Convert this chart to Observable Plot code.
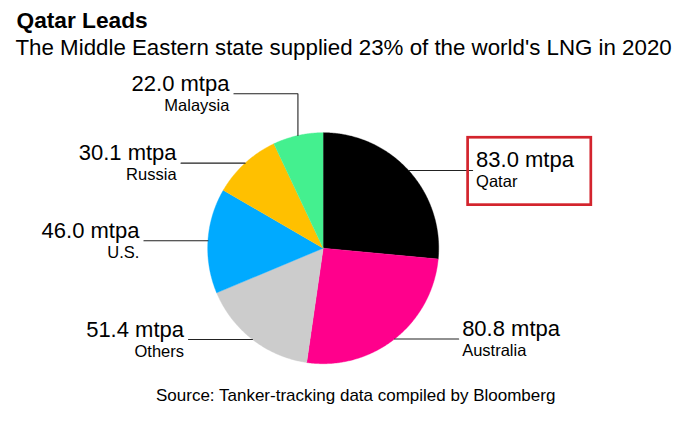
<!DOCTYPE html>
<html><head><meta charset="utf-8">
<script src="https://cdn.jsdelivr.net/npm/d3@7"></script>
<script src="https://cdn.jsdelivr.net/npm/@observablehq/plot@0.6"></script>
<style>
body{margin:0;background:#fff;}
#wrap{position:relative;width:679px;height:422px;font-family:"Liberation Sans",Arial,sans-serif;color:#000;overflow:hidden;}
#title{position:absolute;left:16.5px;top:8.8px;font-size:22.7px;line-height:22.7px;font-weight:bold;white-space:nowrap;}
#subtitle{position:absolute;left:15.5px;top:37.1px;font-size:22.3px;line-height:22.3px;white-space:nowrap;}
#chart{position:absolute;left:0;top:64px;}
#source{position:absolute;left:156px;top:386.6px;font-size:17px;line-height:17px;white-space:nowrap;}
</style></head><body>
<div id="wrap">
<div id="title">Qatar Leads</div>
<div id="subtitle">The Middle Eastern state supplied 23% of the world's LNG in 2020</div>
<div id="chart"></div>
<div id="source">Source: Tanker-tracking data compiled by Bloomberg</div>
</div>
<script>
// Data
const countries = ["Qatar", "Australia", "Others", "U.S.", "Russia", "Malaysia"];
const volumes = [83.0, 80.8, 51.4, 46.0, 30.1, 22.0];
const unit = "mtpa";
const sliceColors = ["#000000", "#ff008c", "#cccccc", "#00aaff", "#ffc000", "#44f08f"];
const highlighted = "Qatar";

// Layout
const W = 679, H = 310;
const cx = 322.7, cy = 183.7, R = 115.5;
const lead = 64, gap = 3.5, elbowRise = 39;

const arcs = d3.pie().sort(null).value(d => d)(volumes);

const slices = [];
arcs.forEach((a, i) => {
  slices.push({name: countries[i], x: cx, y: cy});
  const n = Math.max(2, Math.ceil((a.endAngle - a.startAngle) / (Math.PI / 360)));
  for (let k = 0; k <= n; k++) {
    const t = a.startAngle + (a.endAngle - a.startAngle) * k / n;
    slices.push({name: countries[i], x: cx + R * Math.sin(t), y: cy - R * Math.cos(t)});
  }
});

const leaders = [];
const labels = [];
arcs.forEach((a, i) => {
  const m = (a.startAngle + a.endAngle) / 2;
  const ex = cx + R * Math.sin(m), ey = cy - R * Math.cos(m);
  const side = Math.sin(m) >= 0 ? 1 : -1;
  const pts = [{x: ex, y: ey}];
  let ly = ey;
  if (Math.cos(m) > 0.9) { ly = cy - R - elbowRise; pts.push({x: ex, y: ly}); }
  const endX = ex + side * lead;
  pts.push({x: endX, y: ly});
  pts.forEach(p => leaders.push({name: countries[i], ...p}));
  labels.push({
    name: countries[i],
    value: d3.format(".1f")(volumes[i]) + " " + unit,
    side, x: endX + side * gap, y: ly, endX
  });
});

const hl = labels.find(d => d.name === highlighted);
const box = [{x1: hl.endX - 4.5, x2: hl.endX + 118.7, y1: hl.y - 32.7, y2: hl.y + 34.7}];

const font = "Liberation Sans, Arial, sans-serif";
const chart = Plot.plot({
  width: W, height: H, margin: 0,
  x: {domain: [0, W], range: [0, W], axis: null},
  y: {domain: [0, H], range: [0, H], axis: null},
  color: {domain: countries, range: sliceColors},
  style: {fontFamily: font, background: "#fff", overflow: "visible"},
  marks: [
    Plot.line(slices, {x: "x", y: "y", z: "name", fill: "name", stroke: "name", strokeWidth: 0.4, curve: "linear"}),
    Plot.line(leaders, {x: "x", y: "y", z: "name", stroke: "#222", strokeWidth: 1.1, strokeLinejoin: "miter"}),
    Plot.rect(box, {x1: "x1", x2: "x2", y1: "y1", y2: "y2", fill: "none", stroke: "#d3242d", strokeWidth: 2.7}),
    Plot.text(labels.filter(d => d.side > 0), {x: "x", y: d => d.y - 3, text: "value", textAnchor: "start", lineAnchor: "bottom", fontSize: 22, fill: "#000", fontFamily: font}),
    Plot.text(labels.filter(d => d.side > 0), {x: "x", y: d => d.y + 17, text: "name", textAnchor: "start", lineAnchor: "bottom", fontSize: 16.5, fill: "#000", fontFamily: font}),
    Plot.text(labels.filter(d => d.side < 0), {x: d => d.x - 1, y: d => d.y - 3, text: "value", textAnchor: "end", lineAnchor: "bottom", fontSize: 22, fill: "#000", fontFamily: font}),
    Plot.text(labels.filter(d => d.side < 0), {x: d => d.x - 1, y: d => d.y + 17, text: "name", textAnchor: "end", lineAnchor: "bottom", fontSize: 16.5, fill: "#000", fontFamily: font})
  ]
});
document.getElementById("chart").appendChild(chart);
</script>
</body></html>
